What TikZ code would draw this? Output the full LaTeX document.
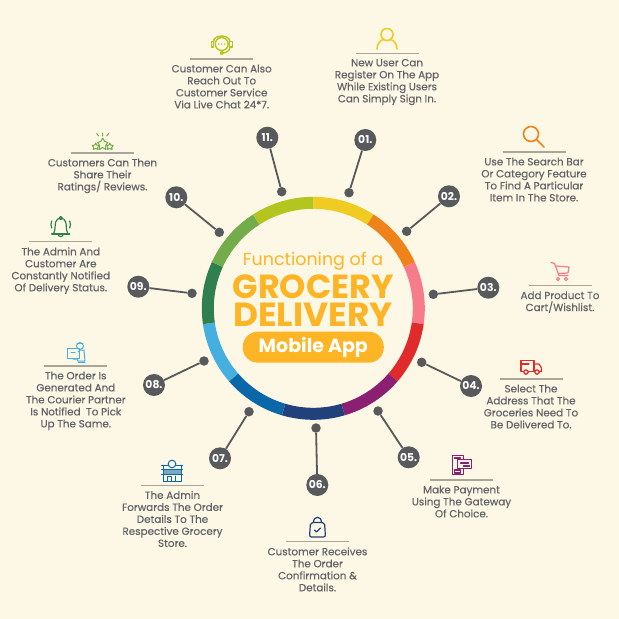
\documentclass[tikz,border=0pt]{standalone}
\usepackage{fontspec}
\setmainfont{Poppins}
\newfontfamily\labfont[FakeBold=0.35]{Poppins}
\definecolor{bgc}{HTML}{FDF7E6}
\definecolor{pinc}{HTML}{58595B}
\definecolor{txtc}{HTML}{626366}
\definecolor{rulec}{HTML}{A8A699}
\definecolor{titlec}{HTML}{FDB525}
\definecolor{cA}{HTML}{F0CB22}
\definecolor{cB}{HTML}{F0821A}
\definecolor{cC}{HTML}{F67C8C}
\definecolor{cD}{HTML}{E12A2B}
\definecolor{cE}{HTML}{8B2073}
\definecolor{cF}{HTML}{20417C}
\definecolor{cG}{HTML}{0A68A8}
\definecolor{cH}{HTML}{45B0E0}
\definecolor{cI}{HTML}{2F7F4F}
\definecolor{cJ}{HTML}{73AC4A}
\definecolor{cK}{HTML}{B5C51F}
\tikzset{
 num/.style={circle,fill=pinc,minimum size=22pt,inner sep=0pt,text=white,font=\fontsize{10.8}{12}\selectfont\bfseries},
 dot/.style={circle,fill=pinc,minimum size=9.5pt,inner sep=0pt},
 pin/.style={draw=pinc,line width=1.8pt},
 lab/.style={align=center,text=txtc,inner sep=0pt,anchor=north,font=\labfont\fontsize{10.35}{12}\selectfont},
 sep/.style={draw=rulec,line width=1.1pt},
 ico/.style={line width=1.2pt,line cap=round,line join=round},
 bigt/.style={text=titlec,inner sep=0pt,text height=22pt,text depth=0pt,font=\fontsize{33.4}{36}\selectfont\bfseries}
}
\newcommand{\pinitem}[5]{%
 \node[num] (n#1) at (#2,#3) {#1.};
 \node[dot] (d#1) at (#4,#5) {};
 \draw[pin] (n#1) -- (d#1);
}
\newcommand{\txt}[4]{%
 \coordinate (sa#1) at (#2-31.5,#3);
 \coordinate (sb#1) at (#2+31.5,#3);
 \draw[sep] (sa#1) -- (sb#1);
 \node[lab] (t#1) at (#2,#3+5.5) {#4};
}
\begin{document}
\begin{tikzpicture}[x=1pt,y=-1pt]
\useasboundingbox (0,0) rectangle (619,619);
\fill[bgc] (0,0) rectangle (619,619);
% ring
\foreach \i/\c in {0/cA,1/cB,2/cC,3/cD,4/cE,5/cF,6/cG,7/cH,8/cI,9/cJ,10/cK}{
 \pgfmathsetmacro\a{90-\i*360/11}
 \pgfmathsetmacro\b{90-(\i+1)*360/11}
 \fill[\c] plot[domain=\a:\b,samples=24] ({313.3+111.5*cos(\x)},{308.3-111.5*sin(\x)})
   -- plot[domain=\b:\a,samples=24] ({313.3+99.5*cos(\x)},{308.3-99.5*sin(\x)}) -- cycle;
}
% title
\node[text=titlec,inner sep=0pt,font=\fontsize{17.5}{20}\selectfont] (ta) at (313,261.5) {Functioning of a};
\node[bigt] (tb) at (313.3,287) {GROCERY};
\node[bigt,xscale=1.03] (tc) at (313,315.5) {DELIVERY};
\node[fill=titlec,rounded corners=15pt,minimum width=141pt,minimum height=31pt,inner sep=0pt,text=white,font=\fontsize{19}{20}\selectfont\bfseries] (td) at (313.3,347.2) {Mobile App};
% pins
\pinitem{01}{365.3}{140}{349}{192.7}
\pinitem{02}{449}{196.3}{406.7}{231.3}
\pinitem{03}{488.3}{287.7}{433.3}{294.3}
\pinitem{04}{471}{386}{421.7}{362.3}
\pinitem{05}{408.7}{457.3}{378}{411}
\pinitem{06}{317.3}{485}{316}{428}
\pinitem{07}{220}{458.3}{249}{411.7}
\pinitem{08}{154}{385}{204}{361}
\pinitem{09}{138.3}{286.7}{192}{293.3}
\pinitem{10}{176.3}{197.3}{219.3}{232.3}
\pinitem{11}{267.3}{137.7}{281.7}{191.7}
% labels
\txt{01}{387}{53.3}{New User Can\\Register On The App\\While Existing Users\\Can Simply Sign In.}
\txt{02}{534}{152}{Use The Search Bar\\Or Category Feature\\To Find A Particular\\Item In The Store.}
\txt{03}{560}{285.7}{Add Product To\\Cart/Wishlist.}
\txt{04}{531}{379}{Select The\\Address That The\\Groceries Need To\\Be Delivered To.}
\txt{05}{461.5}{480}{Make Payment\\Using The Gateway\\Of Choice.}
\txt{06}{317.5}{541.7}{Customer Receives\\The Order\\Confirmation \&\\Details.}
\txt{07}{172.5}{485.3}{The Admin\\Forwards The Order\\Details To The\\Respective Grocery\\Store.}
\txt{08}{75.8}{366}{The Order Is\\Generated And\\The Courier Partner\\Is Notified~ To Pick\\Up The Same.}
\txt{09}{60.8}{241.7}{The Admin And\\Customer Are\\Constantly Notified\\Of Delivery Status.}
\txt{10}{102.5}{153}{Customers Can Then\\Share Their\\Ratings/ Reviews.}
\txt{11}{221.7}{59}{Customer Can Also\\Reach Out To\\Customer Service\\Via Live Chat 24*7.}
% icon 01 person
\begin{scope}[shift={(387,39)},ico,draw=cA,line width=1.6pt]
\draw (0,-4.5) circle[radius=6];
\draw (-10,10) .. controls (-10,4) and (-6,1) .. (-3.5,0.5);
\draw (10,10) .. controls (10,4) and (6,1) .. (3.5,0.5);
\end{scope}
% icon 02 magnifier
\begin{scope}[shift={(534,136)},ico,draw=cB,line width=1.6pt]
\draw (-3,-2) circle[radius=7.5];
\draw (2.5,3.5) -- (10,11);
\end{scope}
% icon 03 cart
\begin{scope}[shift={(560,272)},ico,draw=cC]
\draw (-9,-9.5) -- (-5.5,-8.5) -- (-1,3.5) -- (8,3.5);
\draw (-4,-6) -- (9,-5) -- (8,1) -- (-1.5,1.5);
\draw (-2,7) circle[radius=1.6] (6,7) circle[radius=1.6];
\end{scope}
% icon 04 truck
\begin{scope}[shift={(531,367)},ico,draw=cD]
\draw (-10,-6.5) rectangle (3,4.5);
\draw (3,-3) -- (8,-3) -- (10.5,1) -- (10.5,4.5) -- (3,4.5);
\draw[fill=bgc] (-5,5) circle[radius=2.2] (6,5) circle[radius=2.2];
\draw (-10,-3) -- (-2,-3);
\end{scope}
% icon 05 payment
\begin{scope}[shift={(461.5,465)},ico,draw=cE]
\draw[line width=1.6pt] (-9,-9.5) rectangle (2,9.5);
\draw[fill=bgc] (-4,-5.5) rectangle (10,3.5);
\draw (-7,-7) -- (-1,-7) (-1,-2) -- (7,-2) (2,1) -- (8,1);
\draw (-7,5) rectangle (-1,8);
\end{scope}
% icon 06 bag
\begin{scope}[shift={(317.5,528.5)},ico,draw=cF]
\draw[rounded corners=2pt] (-7,-6) -- (7,-6) -- (8,8.5) -- (-8,8.5) -- cycle;
\draw (-4,-6) .. controls (-4,-13) and (4,-13) .. (4,-6);
\draw (-3,1.5) -- (-1,3.5) -- (3,-0.5);
\end{scope}
% icon 07 store
\begin{scope}[shift={(172,471)},ico,draw=cG,line width=1pt]
\fill[cG!55!bgc] (-9,-2) rectangle (9,3.5);
\draw (-10.5,-6) -- (10.5,-6) (-10.5,-2) -- (10.5,-2);
\draw (-9,-6) -- (-9,10) -- (9,10) -- (9,-6);
\draw (-10.5,3.5) -- (10.5,3.5);
\draw (-4.5,10) -- (-4.5,5) -- (-1,5) -- (-1,10);
\draw (3,5) -- (3,10);
\draw[fill=bgc] (0,-7) circle[radius=3.8];
\end{scope}
% icon 08 courier
\begin{scope}[shift={(79,353)},ico,draw=cH,line width=1pt]
\draw (-12,-5) rectangle (0,5);
\draw (-8,-1) -- (-4,-1);
\draw (1,-7) circle[radius=3.5];
\draw (-2,-10) -- (4,-10);
\draw (-1,-1) -- (1,-3) -- (5,-3) -- (6,8) -- (-1,8) -- (-2,6) -- (-6,6);
\draw (-1,9.5) -- (6,9.5);
\end{scope}
% icon 09 bell
\begin{scope}[shift={(60.7,226)},ico,draw=cI]
\draw (-9,8) -- (9,8);
\draw (-7,7.5) .. controls (-5,3) and (-6,-1) .. (-5,-4) .. controls (-4,-9) and (4,-9) .. (5,-4) .. controls (6,-1) and (5,3) .. (7,7.5);
\draw (0,-8) circle[radius=1.5];
\draw (-2.5,8) .. controls (-2.5,11.5) and (2.5,11.5) .. (2.5,8);
\draw (-9,-5) .. controls (-10,-3) and (-10,0) .. (-9,2);
\draw (9,-5) .. controls (10,-3) and (10,0) .. (9,2);
\end{scope}
% icon 10 stars
\begin{scope}[shift={(102.7,141.5)},ico,draw=cJ,line width=1pt]
\draw (0,-3.5) -- (2,0) -- (5,1) -- (3,4) -- (3,8) -- (0,6) -- (-3,8) -- (-3,4) -- (-5,1) -- (-2,0) -- cycle;
\draw (-7,1.5) -- (-6,3.5) -- (-4,4) -- (-5,6) -- (-4.5,8) -- (-7,7) -- (-9.5,8) -- (-9,6) -- (-10.5,4) -- (-8,3.5) -- cycle;
\draw (7,1.5) -- (8,3.5) -- (10.5,4) -- (9,6) -- (9.5,8) -- (7,7) -- (4.5,8) -- (5,6) -- (4,4) -- (6,3.5) -- cycle;
\draw (0,-8.5) -- (0,-5.5) (-6,-8) -- (-4,-5.5) (6,-8) -- (4,-5.5);
\end{scope}
% icon 11 headset
\begin{scope}[shift={(221.7,45)},ico,draw=cK,line width=1.4pt]
\draw (0,-1) circle[radius=6.5];
\draw (-8.5,-3) .. controls (-8,-11) and (8,-11) .. (8.5,-3);
\draw[fill=bgc] (-10.5,-3.5) rectangle (-8,2) (8,-3.5) rectangle (10.5,2);
\fill[cK] (-3,-1) circle[radius=.8] (0,-1) circle[radius=.8] (3,-1) circle[radius=.8];
\draw (8.5,2) .. controls (8,6) and (4,8) .. (1,8);
\fill[cK] (0,8) circle[radius=2];
\end{scope}
\end{tikzpicture}
\end{document}
